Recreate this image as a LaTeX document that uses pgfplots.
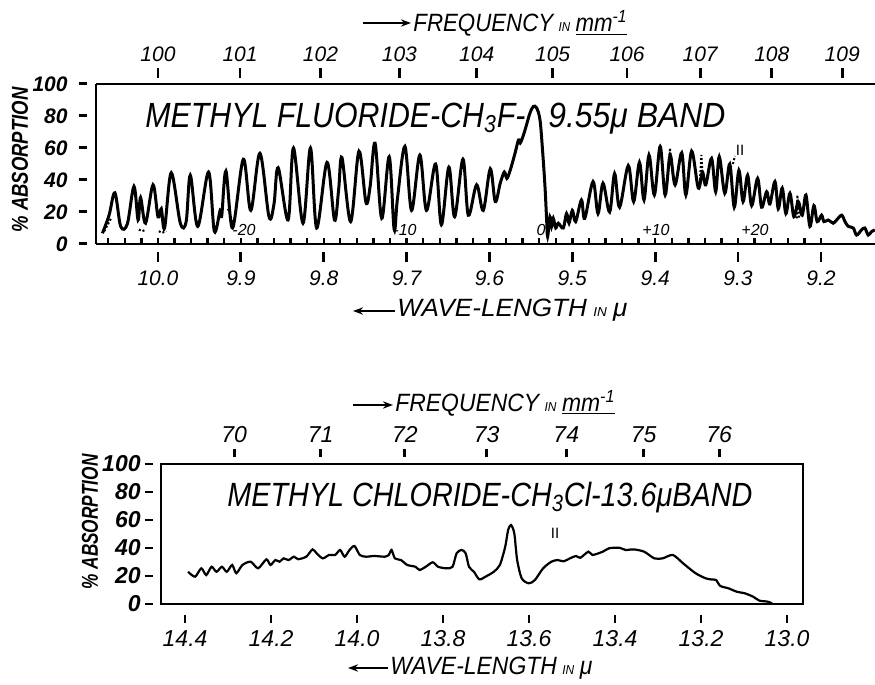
\documentclass[border=0pt]{standalone}
\usepackage{pgfplots}
\pgfplotsset{compat=1.18}
\usepackage{graphicx}
\usepackage{fontspec}
\setmainfont{Liberation Sans}
\usetikzlibrary{arrows.meta}

\newcommand{\numA}{\fontsize{10.5}{12}\selectfont\itshape}
\newcommand{\numAb}{\fontsize{10.5}{12}\selectfont\itshape\bfseries}
\newcommand{\numB}{\fontsize{11.5}{13}\selectfont\itshape}
\newcommand{\numBb}{\fontsize{11.5}{13}\selectfont\itshape\bfseries}
\newcommand{\hdr}{\fontsize{12.5}{14}\selectfont\itshape}
\newcommand{\ttl}{\fontsize{17.5}{20}\selectfont\itshape}
\newcommand{\sm}{\fontsize{6.5}{7}\selectfont}

% a row of free-standing tick strokes: each "label" is a small filled bar
\pgfplotsset{
  tickrow/.style={
    scale only axis, height=10pt, ymin=0, ymax=1, x dir=reverse,
    axis x line*=bottom, axis y line=none, ytick=\empty,
    axis line style={draw=none}, major tick length=0pt,
    xticklabel style={anchor=south, inner sep=0pt},
  },
}

\begin{document}
\begin{tikzpicture}
\useasboundingbox (0,0) rectangle (437.5pt,-342.5pt);

% ---------------- upper panel: CH3F
\begin{axis}[
  at={(48pt,-122pt)}, anchor=south west,
  scale only axis, width=389.5pt, height=80pt,
  xmin=9.1348, xmax=10.0748, x dir=reverse,
  ymin=0, ymax=100,
  axis x line*=bottom, axis y line*=left,
  axis line style={line width=1.1pt},
  /pgf/number format/assume math mode=true,
  major tick length=0pt,
  xtick={9.2,9.3,9.4,9.5,9.6,9.7,9.8,9.9,10.0},
  xticklabel={\pgfmathprintnumber[fixed,fixed zerofill,precision=1]{\tick}},
  xticklabel style={anchor=north, inner sep=0pt, yshift=-13pt, font=\numA},
  ytick={0,20,40,60,80,100},
  yticklabel={\pgfmathprintnumber{\tick}\hspace{5.5pt}\rule[3.1pt]{4pt}{1.3pt}},
  yticklabel style={anchor=east, inner sep=0pt, xshift=-4.5pt, font=\numAb},
]
\addplot[line width=1.5pt, smooth, tension=0.55] coordinates {
(10.067,6.7)(10.059,18)(10.052,32)(10.045,11)(10.037,12.5)(10.029,36)(10.024,15)(10.021,29)
(10.015,13)(10.006,37)(10.000,17)(9.996,22)(9.992,10)(9.984,44.5)(9.973,13)(9.966,14)
(9.961,43)(9.952,11)(9.939,45)(9.932,8)(9.925,21)(9.923,18)(9.918,45.6)(9.910,10)
(9.897,53)(9.888,21)(9.877,56.7)(9.866,17)(9.860,25)(9.855,47.7)(9.843,15)(9.8365,60)
(9.825,13)(9.816,60)(9.8085,10)(9.796,51)(9.787,15)(9.782,34)(9.778,54)(9.7675,14)
(9.7575,58)(9.749,26)(9.744,36)(9.738,63)(9.730,16)(9.721,54.6)(9.715,9)(9.711,28.5)
(9.702,61)(9.694,21)(9.684,55.6)(9.676,21)(9.665,50)(9.658,12)(9.649,48)(9.642,17)
(9.632,53)(9.6255,18)(9.6155,37)(9.6075,21)(9.599,47)(9.593,26.5)(9.587,38)(9.582,45)
(9.579,41)(9.575,46)(9.569,57)(9.565,65)(9.563,63)(9.559,68)(9.555,75)(9.551,82)
(9.547,86)(9.543,85)(9.539,77.5)(9.536,59)(9.533,36)(9.531,15)(9.5298,4.6)(9.527,17)
(9.525,11)(9.523,16)(9.520,10)(9.517,13)(9.511,10)(9.507,19)(9.504,13)(9.500,21)
(9.496,14)(9.489,27.5)(9.485,16)(9.475,39)(9.469,19)(9.463,38)(9.455,20)(9.449,44)
(9.443,23)(9.4325,49)(9.426,26.5)(9.419,51)(9.4135,27.5)(9.4075,55.6)(9.401,30.6)(9.394,61)
(9.388,30.6)(9.382,55.6)(9.376,37)(9.368,57)(9.363,30.6)(9.356,58)(9.348,35)(9.343,45)
(9.339,37)(9.332,53.5)(9.327,32.7)(9.3227,54.6)(9.316,31.7)(9.310,50)(9.3046,23)(9.299,46)
(9.294,26.5)(9.2885,43)(9.2836,24)(9.2764,41)(9.2716,23)(9.2655,32.7)(9.2616,25)(9.2555,39)
(9.2515,22)(9.2467,35)(9.2423,19)(9.2374,31.7)(9.2326,17)(9.2274,26.5)(9.2226,18)(9.2181,30.6)
(9.2133,11)(9.2085,24)(9.2045,14)(9.1992,18)(9.1964,14)(9.1912,15)(9.1852,13)(9.1811,15)
(9.175,18)(9.171,14)(9.167,11)(9.161,10)(9.157,5.6)(9.151,8.8)(9.147,10)(9.143,5.6)
(9.139,7.7)(9.135,8.8)
};
% dotted second traces
\addplot[densely dotted, line width=1pt, unbounded coords=jump] coordinates {
(10.0648,8)(10.0567,16)(10.056,nan)
(10.023,9)(10.019,8)(10.0145,9)(10.014,nan)
(9.999,8)(9.995,7)(9.990,8)(9.989,nan)
(9.9155,22)(9.912,17)(9.9095,12)(9.909,nan)
(9.3846,43)(9.3822,60)(9.3786,43)(9.378,nan)
(9.346,40)(9.3442,55.6)(9.3424,40)(9.342,nan)
(9.3062,50)(9.3038,55)(9.303,nan)
(9.229,16)(9.2285,30.6)(9.2262,16)
};
\end{axis}

% frequency labels and top line of upper panel
\begin{axis}[
  at={(48pt,-122pt)}, anchor=south west,
  scale only axis, width=389.5pt, height=80pt,
  xmin=9.1348, xmax=10.0748, x dir=reverse,
  ymin=0, ymax=100,
  axis x line*=top, axis y line=none, ytick=\empty,
  axis line style={line width=1.1pt},
  major tick length=0pt,
  xtick={9.17431,9.25926,9.34579,9.43396,9.52381,9.61538,9.70874,9.80392,9.90099,10},
  xticklabels={109,108,107,106,105,104,103,102,101,100},
  xticklabel style={anchor=south, inner sep=0pt, yshift=11pt, font=\numA},
]
\end{axis}
% tick strokes of upper panel
\begin{axis}[tickrow, at={(48pt,-131pt)}, anchor=south west, width=389.5pt,
  xmin=9.1348, xmax=10.0748, xticklabel={\rule{1.4pt}{5pt}},
  xtick={9.2,9.3,9.4,9.5,9.6,9.7,9.8,9.9,10.0}]
\end{axis}
\begin{axis}[tickrow, at={(48pt,-39pt)}, anchor=south west, width=389.5pt,
  xmin=9.1348, xmax=10.0748, xticklabel={\rule{1.4pt}{5pt}},
  xtick={9.17431,9.25926,9.34579,9.43396,9.52381,9.61538,9.70874,9.80392,9.90099,10}]
\end{axis}
\begin{axis}[tickrow, at={(48pt,-121.5pt)}, anchor=south west, width=389.5pt,
  xmin=9.1348, xmax=10.0748, xticklabel={\rule{1.2pt}{2.3pt}},
  xtick={9.2,9.22,...,10.06}]
\end{axis}

% ---------------- lower panel: CH3Cl
\begin{axis}[
  at={(80.5pt,-302pt)}, anchor=south west,
  scale only axis, width=321pt, height=70pt,
  xmin=12.963, xmax=14.456, x dir=reverse,
  ymin=0, ymax=100,
  axis line style={line width=1.1pt},
  /pgf/number format/assume math mode=true,
  major tick length=0pt,
  xtick pos=left, ytick pos=left,
  xtick={13.0,13.2,13.4,13.6,13.8,14.0,14.2,14.4},
  xticklabel={\pgfmathprintnumber[fixed,fixed zerofill,precision=1]{\tick}},
  xticklabel style={anchor=north, inner sep=0pt, yshift=-13pt, font=\numB},
  ytick={0,20,40,60,80,100},
  yticklabel={\pgfmathprintnumber{\tick}\hspace{2pt}\rule[3.4pt]{4pt}{1.3pt}},
  yticklabel style={anchor=east, inner sep=0pt, xshift=-4pt, font=\numBb},
]
\addplot[line width=1.1pt, smooth, tension=0.45] coordinates {
(14.393,23)(14.3767,19.5)(14.3623,25.5)(14.3508,20.7)(14.3384,26.6)(14.3269,23)(14.3144,26.6)
(14.3029,23)(14.2905,27.9)(14.2809,22)(14.2665,27.9)(14.2474,30.2)(14.2301,25.5)(14.2110,31.9)
(14.2014,27.9)(14.1899,31.4)(14.1803,30.2)(14.1707,32.6)(14.1593,31.4)(14.1468,33.8)(14.1372,32)
(14.1181,33.8)(14.1037,39)(14.0941,36.2)(14.0798,32.6)(14.0654,35)(14.0510,35)(14.0395,38.6)
(14.0290,33.8)(14.0175,38.6)(14.0060,41.4)(13.9936,35)(13.9792,33.8)(13.9600,34.3)(13.9361,33.8)
(13.9265,35)(13.9198,38.6)(13.9121,32.6)(13.8978,31.4)(13.8834,27.9)(13.8642,26.6)(13.8547,24.3)
(13.8403,26.6)(13.8240,29.8)(13.8116,26.6)(13.7924,25.5)(13.7780,26.6)(13.7685,36.2)(13.7570,38.6)
(13.7474,36.2)(13.7397,26.6)(13.7282,23)(13.7158,17.6)(13.7014,19.5)(13.6822,23)(13.6679,27.9)
(13.6554,41)(13.6487,52.9)(13.6420,56.4)(13.6344,50.5)(13.6277,31.4)(13.6171,18.3)(13.6008,14.8)
(13.5865,17.1)(13.5673,25.5)(13.5482,30.2)(13.5338,31.4)(13.5194,30.5)(13.5050,32.6)(13.4907,34.3)
(13.4811,33)(13.4619,37.4)(13.4524,35)(13.4284,37.4)(13.4141,39.8)(13.3901,40.2)(13.3757,38.6)
(13.3566,39)(13.3326,37.4)(13.3087,32.6)(13.2895,32.6)(13.2656,35)(13.2416,29)(13.2129,22)
(13.1890,18.3)(13.1746,17.5)(13.1650,17.1)(13.1554,12.9)(13.1363,11.2)(13.1171,8.8)(13.0980,7.6)
(13.0788,5.2)(13.0644,2.4)(13.0453,1.7)(13.035,0.5)
};
\end{axis}

% frequency labels of lower panel
\begin{axis}[
  at={(80.5pt,-302pt)}, anchor=south west,
  scale only axis, width=321pt, height=70pt,
  xmin=12.963, xmax=14.456, x dir=reverse,
  ymin=0, ymax=100,
  axis x line*=top, axis y line=none, ytick=\empty,
  axis line style={line width=1.1pt},
  major tick length=0pt,
  xtick={13.15789,13.33333,13.51351,13.69863,13.88889,14.08451,14.28571},
  xticklabels={76,75,74,73,72,71,70},
  xticklabel style={anchor=south, inner sep=0pt, yshift=10.5pt, font=\numB},
]
\end{axis}
% tick strokes of lower panel
\begin{axis}[tickrow, at={(80.5pt,-311.5pt)}, anchor=south west, width=321pt,
  xmin=12.963, xmax=14.456, xticklabel={\rule{1.4pt}{4pt}},
  xtick={13.0,13.2,13.4,13.6,13.8,14.0,14.2,14.4}]
\end{axis}
\begin{axis}[tickrow, at={(80.5pt,-228.5pt)}, anchor=south west, width=321pt,
  xmin=12.963, xmax=14.456, xticklabel={\rule{1.4pt}{4pt}},
  xtick={13.15789,13.33333,13.51351,13.69863,13.88889,14.08451,14.28571}]
\end{axis}

% ---------------- lettering (pixel grid of the page)
\begin{scope}[x=0.5pt, y=-0.5pt]
% upper panel
\draw[line width=1.1pt, -{Stealth[length=5pt,width=3.6pt]}] (363,23) -- (411,23);
\node[anchor=base west, inner sep=0pt] at (413,31.7)
  {\resizebox{107pt}{\height}{\hdr FREQUENCY\hspace{3pt}{\sm IN}\hspace{3pt}\underline{mm\textsuperscript{-1}}}};
\draw[line width=1.1pt, -{Stealth[length=5pt,width=3.6pt]}] (395,311) -- (353,311);
\node[anchor=base west, inner sep=0pt] at (397,316.7)
  {\resizebox{115pt}{\height}{\hdr WAVE-LENGTH\hspace{3pt}{\sm IN}\hspace{3pt}μ}};
\node[rotate=90, inner sep=0pt] at (20,160)
  {\resizebox{72.5pt}{\height}{\fontsize{11.5}{13}\selectfont\itshape\bfseries \% ABSORPTION}};
\node[anchor=base west, inner sep=0pt] at (145,127)
  {\resizebox{190pt}{\height}{\ttl METHYL FLUORIDE-CH\textsubscript{3}F-}};
\node[anchor=base west, inner sep=0pt] at (548,127)
  {\resizebox{88.5pt}{\height}{\ttl 9.55μ BAND}};
\foreach \xx/\lab in {244/-20, 405/-10, 541/0, 656/+10, 755/+20}
  \node[inner sep=0pt, font=\fontsize{8}{9}\selectfont\itshape] at (\xx,230) {\lab};
\node[inner sep=0pt, font=\fontsize{7.5}{8}\selectfont] at (740,150) {II};
% lower panel
\draw[line width=1.1pt, -{Stealth[length=5pt,width=3.6pt]}] (353,405) -- (393,405);
\node[anchor=base west, inner sep=0pt] at (395,411)
  {\resizebox{110pt}{\height}{\hdr FREQUENCY\hspace{3pt}{\sm IN}\hspace{3pt}\underline{mm\textsuperscript{-1}}}};
\draw[line width=1.1pt, -{Stealth[length=5pt,width=3.6pt]}] (388,668) -- (348,668);
\node[anchor=base west, inner sep=0pt] at (390,674)
  {\resizebox{101pt}{\height}{\hdr WAVE-LENGTH\hspace{3pt}{\sm IN}\hspace{3pt}μ}};
\node[rotate=90, inner sep=0pt] at (90,522)
  {\resizebox{67.5pt}{\height}{\fontsize{11.5}{13}\selectfont\itshape\bfseries \% ABSORPTION}};
\node[anchor=base west, inner sep=0pt] at (227,506)
  {\resizebox{262.5pt}{\height}{\fontsize{16.8}{19}\selectfont\itshape METHYL CHLORIDE-CH\textsubscript{3}Cl-13.6μBAND}};
\node[inner sep=0pt, font=\fontsize{7.5}{8}\selectfont] at (555,533) {II};
\end{scope}
\end{tikzpicture}
\end{document}
